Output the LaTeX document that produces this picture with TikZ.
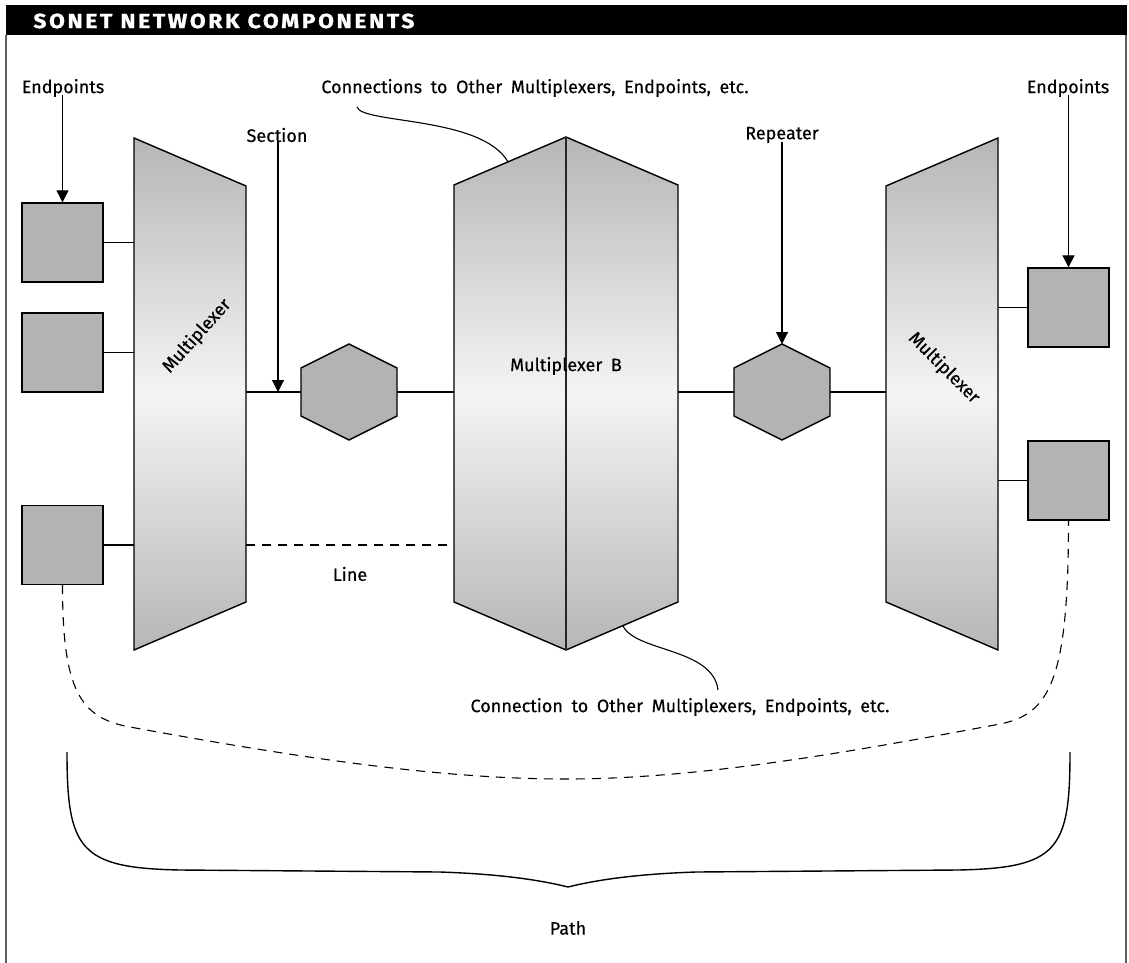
\documentclass[tikz,border=0pt]{standalone}
\usepackage{fontspec}
\setmainfont{Fira Sans}[WordSpace=1.8, FakeBold=0.4]
\newfontfamily\titlefont{Fira Sans}[LetterSpace=13, FakeStretch=1.12,
  BoldFeatures={FakeBold=1.2}]
\usetikzlibrary{arrows.meta, positioning, calc}
\definecolor{boxgray}{RGB}{179,179,179}
\definecolor{muxgray}{RGB}{182,182,182}
\definecolor{muxlight}{RGB}{244,244,244}
\definecolor{framegray}{RGB}{95,95,95}
\tikzset{%
  endpt/.style={draw, fill=boxgray, line width=0.7pt, minimum width=40.5pt,
                minimum height=39.5pt, inner sep=0pt},
  muxshape/.style={draw, line width=0.7pt, top color=muxgray,
                   bottom color=muxgray, middle color=muxlight},
  rptshape/.style={draw, fill=boxgray, line width=0.7pt},
  link/.style={line width=0.55pt},
  pointer/.style={line width=0.55pt, -{Triangle[length=6pt,width=6pt]}},
  lbl/.style={font=\fontsize{9}{11}\selectfont, inner sep=1pt},
}
% hexagon for a repeater: #1 name, #2 centre x, #3 centre y
\newcommand{\drawrepeater}[3]{%
  \draw[rptshape] (#2,#3-48) coordinate (#1-n) -- (#2+48,#3-24) -- (#2+48,#3+24)
    -- (#2,#3+48) -- (#2-48,#3+24) -- (#2-48,#3-24) -- cycle;
  \coordinate (#1-w) at (#2-48,#3);
  \coordinate (#1-e) at (#2+48,#3);
}

\begin{document}
\begin{tikzpicture}[x=0.5pt, y=-0.5pt]
\useasboundingbox (0,0) rectangle (1129,963);

% Frame and title bar
\fill (6,5) rectangle (1127,35);
\draw[framegray, line width=1pt] (6,35) -- (6,963);
\draw[framegray, line width=1pt] (1126,35) -- (1126,963);
\node[anchor=west, text=white, inner sep=0pt,
      font=\fontsize{10.2}{12}\selectfont\titlefont\bfseries]
      (title) at (33,21) {SONET NETWORK COMPONENTS};

% Left multiplexer
\draw[muxshape] (134,138) coordinate (MLnw) -- (246,186) coordinate (MLne)
  -- (246,602) coordinate (MLse) -- (134,650) coordinate (MLsw) -- cycle;
\node[lbl, rotate=48] (muxL) at (197,336) {Multiplexer};

% Multiplexer B
\draw[muxshape] (454,185) coordinate (MBnw) -- (566,137) coordinate (MBn)
  -- (678,185) coordinate (MBne) -- (678,602) coordinate (MBse)
  -- (566,650) coordinate (MBs) -- (454,602) coordinate (MBsw) -- cycle;
\draw[line width=1pt, black!85] (MBn) -- (MBs);
\node[lbl] (muxB) at (566,366) {Multiplexer B};

% Right multiplexer
\draw[muxshape] (886,186) coordinate (MRnw) -- (998,138) coordinate (MRne)
  -- (998,650) coordinate (MRse) -- (886,602) coordinate (MRsw) -- cycle;
\node[lbl, rotate=-45] (muxR) at (944,368) {Multiplexer};

% Endpoints
\node[endpt] (EL1) at (62.5,242.5) {};
\node[endpt] (EL2) at (62.5,352.5) {};
\node[endpt] (EL3) at (62.5,545) {};
\node[endpt] (ER1) at (1068.5,307.5) {};
\node[endpt] (ER2) at (1068.5,480.5) {};

% Repeaters
\drawrepeater{R1}{349}{392}
\drawrepeater{R2}{782}{392}

% Links
\draw[link] (EL1.east) -- (EL1.east -| MLnw);
\draw[link] (EL2.east) -- (EL2.east -| MLnw);
\draw[link] (EL3.east) -- (EL3.east -| MLnw);
\draw[link] (R1-w -| MLne) -- (R1-w);
\draw[link] (R1-e) -- (R1-e -| MBnw);
\draw[link] (R2-w -| MBne) -- (R2-w);
\draw[link] (R2-e) -- (R2-e -| MRnw);
\draw[link] (ER1.west -| MRne) -- (ER1.west);
\draw[link] (ER2.west -| MRne) -- (ER2.west);
\draw[link, dashed, dash pattern=on 4.5pt off 3.5pt] (EL3.east -| MLne) -- (EL3.east -| MBnw);
\node[lbl] (line) at (350,574) {Line};

% Labels with pointers
\node[lbl] (epL) at (63,88) {Endpoints};
\draw[pointer] (epL.south -| EL1.north) ++(0,-4) -- (EL1.north);
\node[lbl] (epR) at (1068,88) {Endpoints};
\draw[pointer] (epR.south -| ER1.north) ++(0,-4) -- (ER1.north);
\coordinate (sec) at (278,392);
\node[lbl] (secL) at (277,135) {Section};
\draw[pointer] (secL.south -| sec) ++(0,-4) -- (sec);
\node[lbl] (rpt) at (782,135) {Repeater};
\draw[pointer] (rpt.south -| R2-n) ++(0,-4) -- (R2-n);

% Callouts to other multiplexers
\node[lbl] (conT) at (535,88) {Connections to Other Multiplexers, Endpoints, etc.};
\draw[link] (357,107) .. controls (362,124) and (482,116) .. (508,162);
\node[lbl] (conB) at (680,707) {Connection to Other Multiplexers, Endpoints, etc.};
\draw[link] (623,626) .. controls (636,652) and (713,648) .. (718,690);

% Path between the endpoints
\draw[link, dashed, dash pattern=on 4.5pt off 3.5pt] (EL3.south)
  .. controls (62.5,690) and (80,718) .. (130,727)
  .. controls (300,758) and (440,779) .. (566,779)
  .. controls (700,779) and (850,752) .. (1000,724)
  .. controls (1050,714) and (1068.5,680) .. (ER2.south);

% Brace
\draw[link, line width=0.7pt] (67,752) .. controls (67,850) and (80,868) .. (180,870)
  -- (440,872) .. controls (500,874) and (540,880) .. (568,887)
  .. controls (596,880) and (636,874) .. (696,872)
  -- (958,870) .. controls (1058,868) and (1070,850) .. (1070,752);
\node[lbl] (path) at (568,928) {Path};

\end{tikzpicture}
\end{document}
